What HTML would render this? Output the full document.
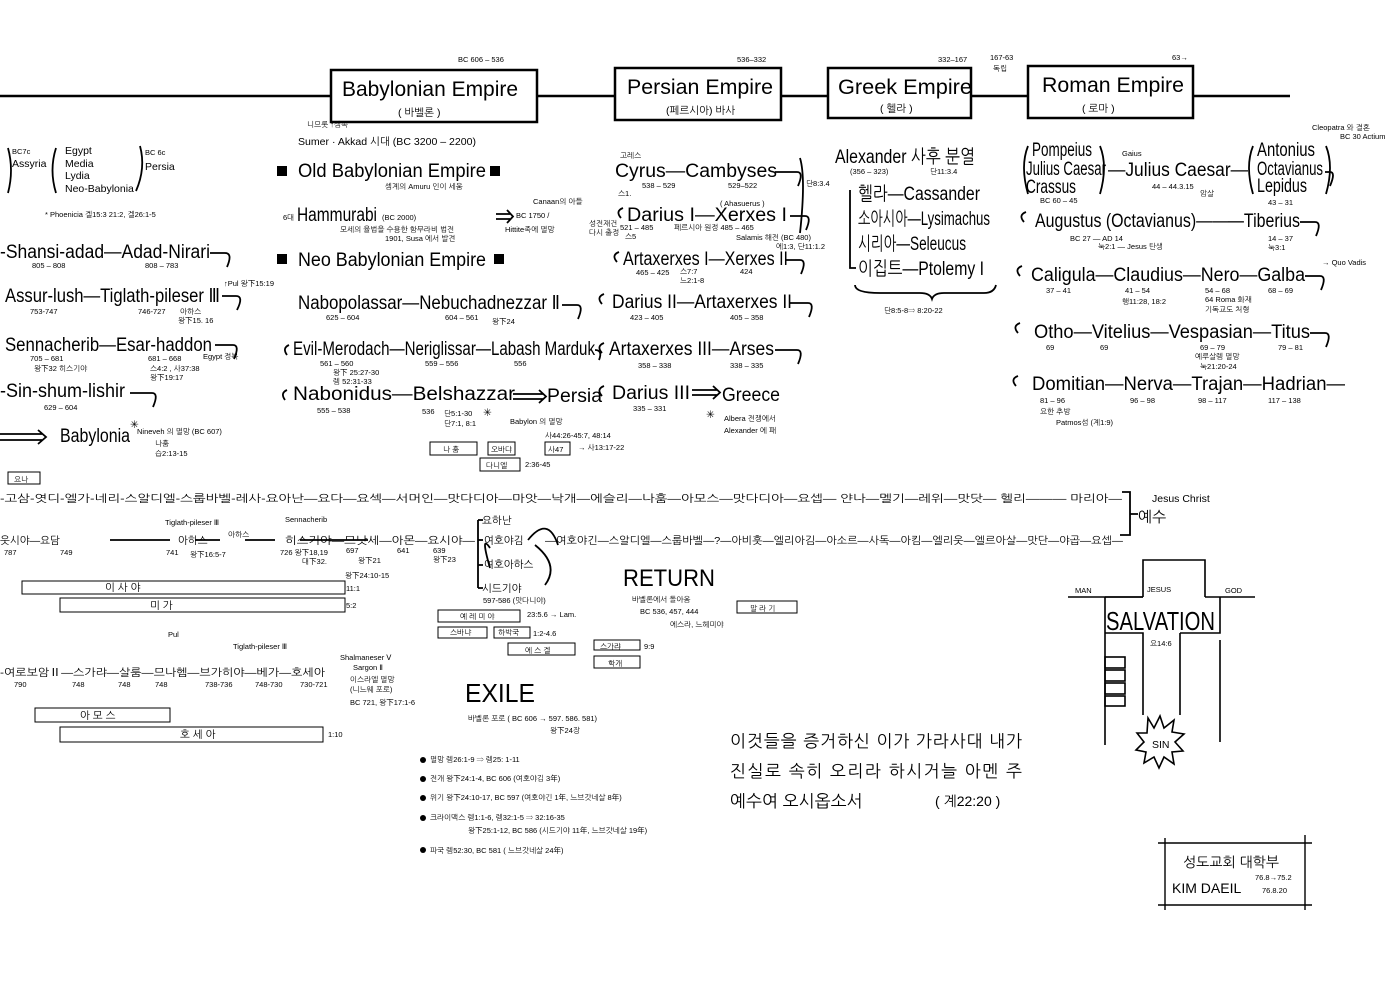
<!DOCTYPE html>
<html><head><meta charset="utf-8"><style>
html,body{margin:0;padding:0;background:#fff;}
svg{display:block;}
text{font-family:"Liberation Sans","NanumGothic",sans-serif;fill:#000;font-weight:normal;}
.k{font-family:"Liberation Sans","NanumGothic","Noto Sans CJK KR",sans-serif;}
.s{font-size:7.5px;}
.m{font-size:10.5px;}
.b{font-size:19px;}
.bb{font-size:21px;}
</style></head><body>
<svg width="1400" height="1000" viewBox="0 0 1400 1000" xmlns="http://www.w3.org/2000/svg">
<g stroke="#000" fill="none">
<path d="M0 96H331M537 96H615M781 96H828M971 96H1028M1193 96H1290" stroke-width="2.5"/>
<rect x="331" y="70" width="206" height="52" stroke-width="2.5"/>
<rect x="615" y="68" width="166" height="52" stroke-width="2.5"/>
<rect x="828" y="68" width="143" height="50" stroke-width="2.5"/>
<rect x="1028" y="66" width="165" height="52" stroke-width="2.5"/>
<g stroke-width="1.8">
<path d="M210 253h15q8 0 2 14"/><path d="M222 296h14q8 0 1 14"/><path d="M215 345h18q7 0 1 14"/><path d="M130 393h22q7 0 1 14"/>
<path d="M562 305h15q7 0 1 14"/><path d="M595 350q8 0 4 10"/>
<path d="M775 172h22q7 0 1 14"/><path d="M790 216h15q7 0 1 14"/><path d="M785 260h15q7 0 1 14"/><path d="M790 303h18q7 0 1 14"/><path d="M775 350h22q7 0 1 14"/>
<path d="M1300 222h15q7 0 1 14"/><path d="M1305 276h15q7 0 1 14"/><path d="M1310 333h15q7 0 1 14"/><path d="M1325 172h5q6 0 0 14"/>
<path d="M289 345q-7 3 -2 10M287 390q-7 3 -2 10M623 208q-8 3 -2 10M619 252q-8 3 -2 10M604 294q-8 3 -2 10M604 343q-8 3 -2 10M604 386q-8 3 -2 10M1026 212q-8 3 -2 10M1022 266q-8 3 -2 10M1020 323q-8 3 -2 10M1018 376q-8 3 -2 10"/>
<path d="M800 158q6 20 0 75"/>
<path d="M850 190v78h6"/>
<path d="M855 285q0 8 25 8h40q10 0 12 6q2 -6 12 -6h40q10 0 12 -8"/>
<path d="M1028 146q-8 20 0 48M1100 146q8 20 0 48M1253 146q-8 20 0 48M1326 146q8 20 0 48"/>
<path d="M56 148q-7 22 0 45M8 148q6 22 0 45"/><path d="M140 146q6 22 -4 45"/>
<path d="M0 434h42M0 440h42M38 430l8 7l-8 7"/>
<path d="M513 394h30M513 399h30M539 390l7 6.5l-7 6.5"/>
<path d="M692 390h25M692 395h25M713 386l7 6.5l-7 6.5"/>
<path d="M496 214h14M496 219h14M507 210l6 6.5l-6 6.5"/>
<path d="M1122 492h8v43h-10M1130 514h8"/>
<path d="M478 520v68M478 520h5M478 540h5M478 565h5M478 588h5"/>
<path d="M528 540q20 -25 30 5M490 548q-10 -15 0 20M535 545q25 20 10 40"/>
<path d="M110 540h60M300 540h68M195 540h25M245 540h30"/>
</g>
<rect x="8" y="472" width="32" height="12"/>
<rect x="430" y="442" width="47" height="13"/><rect x="488" y="442" width="27" height="13"/><rect x="545" y="442" width="25" height="13"/><rect x="480" y="458" width="40" height="13"/>
<rect x="22" y="581" width="323" height="13"/><rect x="60" y="598" width="285" height="14"/>
<rect x="438" y="610" width="82" height="12"/><rect x="438" y="627" width="49" height="11"/><rect x="494" y="627" width="36" height="11"/>
<rect x="508" y="643" width="67" height="12"/><rect x="594" y="640" width="46" height="10"/><rect x="594" y="656" width="46" height="12"/><rect x="737" y="601" width="60" height="12"/>
<rect x="35" y="708" width="135" height="14"/><rect x="60" y="727" width="263" height="15"/>
<g stroke-width="1.6">
<path d="M1143 597V560H1205V597"/>
<path d="M1068 597H1143M1205 597H1255"/>
<path d="M1105 597V745M1105 633H1143V715M1180 633V715M1180 633H1220V600M1220 640V742M1105 597v3M1220 597v3"/>
<path d="M1105 597H1143"/>
<rect x="1105" y="657" width="20" height="11"/><rect x="1105" y="670" width="20" height="11"/><rect x="1105" y="683" width="20" height="11"/><rect x="1105" y="696" width="20" height="10"/>
<path d="M1148 718l6 10l6 -12l4 12l10 -8l-2 12l12 2l-9 8l8 9l-11 1l2 12l-10 -7l-5 11l-5 -11l-10 6l2 -11l-10 -2l8 -8l-7 -9l10 0z"/>
</g>
<path d="M1158 843H1312M1165 838V910M1305 835V910M1158 905H1312" stroke-width="1.4"/>
</g>
<g fill="#000">
<rect x="277" y="166" width="10" height="10"/><rect x="490" y="166" width="10" height="10"/>
<rect x="277" y="254" width="10" height="10"/><rect x="494" y="254" width="10" height="10"/>
<circle cx="423" cy="760" r="3"/><circle cx="423" cy="779" r="3"/><circle cx="423" cy="798" r="3"/><circle cx="423" cy="818" r="3"/><circle cx="423" cy="850" r="3"/>
</g>

<text x="458" y="62" class="s">BC 606 – 536</text>
<text x="342" y="96" class="bb" textLength="176" lengthAdjust="spacingAndGlyphs">Babylonian Empire</text>
<text x="398" y="116" class="k m">( 바벨론 )</text>
<text x="737" y="62" class="s">536–332</text>
<text x="627" y="94" class="bb" textLength="146" lengthAdjust="spacingAndGlyphs">Persian Empire</text>
<text x="666" y="114" class="k m">(페르시아) 바사</text>
<text x="938" y="62" class="s">332–167</text>
<text x="990" y="60" class="s">167-63</text><text x="993" y="71" class="k s">독립</text>
<text x="1172" y="60" class="s">63→</text>
<text x="838" y="94" class="bb" textLength="134" lengthAdjust="spacingAndGlyphs">Greek Empire</text>
<text x="880" y="112" class="k m">( 헬라 )</text>
<text x="1042" y="92" class="bb" textLength="142" lengthAdjust="spacingAndGlyphs">Roman Empire</text>
<text x="1082" y="112" class="k m">( 로마 )</text>

<text x="12" y="154" class="s">BC7c</text><text x="12" y="167" class="m">Assyria</text>
<text x="65" y="154" class="m">Egypt</text><text x="65" y="167" class="m">Media</text><text x="65" y="179" class="m">Lydia</text><text x="65" y="192" class="m">Neo-Babylonia</text>
<text x="145" y="155" class="s">BC 6c</text><text x="145" y="170" class="m">Persia</text>
<text x="45" y="217" class="k s">* Phoenicia  겔15:3 21:2,  겔26:1-5</text>
<text x="0" y="258" class="b" textLength="210" lengthAdjust="spacingAndGlyphs">-Shansi-adad—Adad-Nirari</text>
<text x="32" y="268" class="s">805 – 808</text><text x="145" y="268" class="s">808 – 783</text>
<text x="5" y="302" class="b" textLength="215" lengthAdjust="spacingAndGlyphs">Assur-lush—Tiglath-pileser Ⅲ</text>
<text x="224" y="286" class="k s">↑Pul 왕下15:19</text>
<text x="30" y="314" class="s">753-747</text><text x="138" y="314" class="s">746-727</text><text x="180" y="314" class="k s">아하스</text><text x="178" y="323" class="k s">왕下15. 16</text>
<text x="5" y="351" class="b" textLength="207" lengthAdjust="spacingAndGlyphs">Sennacherib—Esar-haddon</text>
<text x="30" y="361" class="s">705 – 681</text><text x="34" y="371" class="k s">왕下32  히스기야</text>
<text x="148" y="361" class="s">681 – 668</text><text x="150" y="371" class="k s">스4:2 , 사37:38</text><text x="150" y="380" class="k s">왕下19:17</text><text x="203" y="359" class="k s">Egypt 정복</text>
<text x="0" y="397" class="b" textLength="125" lengthAdjust="spacingAndGlyphs">-Sin-shum-lishir</text>
<text x="44" y="410" class="s">629 – 604</text>
<text x="60" y="442" class="b" textLength="70" lengthAdjust="spacingAndGlyphs">Babylonia</text>
<text x="130" y="428" class="m">✳</text><text x="137" y="434" class="k s">Nineveh 의 멸망 (BC 607)</text>
<text x="155" y="446" class="k s">나훔</text><text x="155" y="456" class="k s">습2:13-15</text>

<text x="307" y="127" class="k s">니므롯   ↑셈족</text>
<text x="298" y="145" class="k m" textLength="178" lengthAdjust="spacingAndGlyphs">Sumer · Akkad 시대  (BC 3200 – 2200)</text>
<text x="298" y="177" class="b" textLength="188" lengthAdjust="spacingAndGlyphs">Old Babylonian Empire</text>
<text x="385" y="189" class="k s">셈계의 Amuru 인이 세움</text>
<text x="283" y="220" class="k s">6대</text>
<text x="297" y="221" class="b" textLength="80" lengthAdjust="spacingAndGlyphs">Hammurabi</text><text x="382" y="220" class="s">(BC 2000)</text>
<text x="340" y="232" class="k s">모세의 율법을 수용한 함무라비 법전</text><text x="385" y="241" class="k s">1901, Susa 에서 발견</text>
<text x="516" y="218" class="s">BC 1750 /</text><text x="533" y="204" class="k s">Canaan의 아들</text><text x="505" y="232" class="k s">Hittite족에 멸망</text>
<text x="298" y="266" class="b" textLength="188" lengthAdjust="spacingAndGlyphs">Neo Babylonian Empire</text>
<text x="298" y="309" class="b" textLength="262" lengthAdjust="spacingAndGlyphs">Nabopolassar—Nebuchadnezzar Ⅱ</text>
<text x="326" y="320" class="s">625 – 604</text><text x="445" y="320" class="s">604 – 561</text><text x="492" y="324" class="k s">왕下24</text>
<text x="293" y="355" class="b" textLength="302" lengthAdjust="spacingAndGlyphs">Evil-Merodach—Neriglissar—Labash Marduk</text>
<text x="320" y="366" class="s">561 – 560</text><text x="425" y="366" class="s">559 – 556</text><text x="514" y="366" class="s">556</text>
<text x="333" y="375" class="k s">왕下 25:27-30</text><text x="333" y="384" class="k s">렘 52:31-33</text>
<text x="293" y="400" class="b" textLength="222" lengthAdjust="spacingAndGlyphs">Nabonidus—Belshazzar</text>
<text x="547" y="402" class="b" textLength="55" lengthAdjust="spacingAndGlyphs">Persia</text>
<text x="317" y="413" class="s">555 – 538</text><text x="422" y="414" class="s">536</text>
<text x="444" y="416" class="k s">단5:1-30</text><text x="444" y="426" class="k s">단7:1, 8:1</text>
<text x="483" y="416" class="m">✳</text><text x="510" y="424" class="k s">Babylon 의 멸망</text>
<text x="545" y="438" class="k s">사44:26-45:7, 48:14</text>
<text x="578" y="450" class="k s">→ 사13:17-22</text>
<text x="443" y="452" class="k s">나 훔</text><text x="491" y="452" class="k s">오바댜</text><text x="548" y="452" class="k s">사47</text>
<text x="486" y="468" class="k s">다니엘</text><text x="525" y="467" class="s">2:36-45</text>

<text x="620" y="158" class="k s">고레스</text>
<text x="615" y="177" class="b" textLength="162" lengthAdjust="spacingAndGlyphs">Cyrus—Cambyses</text>
<text x="642" y="188" class="s">538 – 529</text><text x="728" y="188" class="s">529–522</text><text x="618" y="196" class="k s">스1.</text>
<text x="806" y="186" class="k s">단8:3.4</text>
<text x="720" y="206" class="s">( Ahasuerus )</text>
<text x="627" y="221" class="b" textLength="160" lengthAdjust="spacingAndGlyphs">Darius I—Xerxes I</text>
<text x="589" y="226" class="k s">성전재건</text><text x="589" y="235" class="k s">다시 출정</text>
<text x="620" y="230" class="s">521 – 485</text><text x="625" y="239" class="k s">스5</text>
<text x="674" y="230" class="k s">페르시아 원정 485 – 465</text>
<text x="736" y="240" class="k s">Salamis 해전 (BC 480)</text><text x="776" y="249" class="k s">에1:3, 단11:1.2</text>
<text x="623" y="265" class="b" textLength="165" lengthAdjust="spacingAndGlyphs">Artaxerxes I—Xerxes II</text>
<text x="636" y="275" class="s">465 – 425</text><text x="680" y="274" class="k s">스7:7</text><text x="680" y="283" class="k s">느2:1-8</text><text x="740" y="274" class="s">424</text>
<text x="612" y="308" class="b" textLength="180" lengthAdjust="spacingAndGlyphs">Darius II—Artaxerxes II</text>
<text x="630" y="320" class="s">423 – 405</text><text x="730" y="320" class="s">405 – 358</text>
<text x="609" y="355" class="b" textLength="165" lengthAdjust="spacingAndGlyphs">Artaxerxes III—Arses</text>
<text x="638" y="368" class="s">358 – 338</text><text x="730" y="368" class="s">338 – 335</text>
<text x="612" y="399" class="b" textLength="78" lengthAdjust="spacingAndGlyphs">Darius III</text>
<text x="722" y="401" class="b" textLength="58" lengthAdjust="spacingAndGlyphs">Greece</text>
<text x="633" y="411" class="s">335 – 331</text>
<text x="706" y="418" class="m">✳</text><text x="724" y="421" class="k s">Albera 전쟁에서</text><text x="724" y="433" class="k s">Alexander 에 패</text>

<text x="835" y="163" class="b" textLength="140" lengthAdjust="spacingAndGlyphs">Alexander 사후 분열</text>
<text x="850" y="174" class="s">(356 – 323)</text><text x="930" y="174" class="k s">단11:3.4</text>
<text x="858" y="200" class="b" textLength="122" lengthAdjust="spacingAndGlyphs">헬라—Cassander</text>
<text x="858" y="225" class="b" textLength="132" lengthAdjust="spacingAndGlyphs">소아시아—Lysimachus</text>
<text x="858" y="250" class="b" textLength="108" lengthAdjust="spacingAndGlyphs">시리아—Seleucus</text>
<text x="858" y="275" class="b" textLength="126" lengthAdjust="spacingAndGlyphs">이집트—Ptolemy I</text>
<text x="884" y="313" class="k s">단8:5-8⇒ 8:20-22</text>

<text x="1312" y="130" class="s">Cleopatra 와 결혼</text><text x="1340" y="139" class="s">BC 30 Actium</text>
<text x="1032" y="156" class="b" textLength="60" lengthAdjust="spacingAndGlyphs">Pompeius</text>
<text x="1026" y="175" class="b" textLength="80" lengthAdjust="spacingAndGlyphs">Julius Caesar</text>
<text x="1026" y="193" class="b" textLength="50" lengthAdjust="spacingAndGlyphs">Crassus</text>
<text x="1040" y="203" class="s">BC 60 – 45</text>
<text x="1122" y="156" class="s">Gaius</text>
<text x="1108" y="176" class="b" textLength="140" lengthAdjust="spacingAndGlyphs">—Julius Caesar—</text>
<text x="1152" y="189" class="s">44 – 44.3.15</text><text x="1200" y="196" class="k s">암살</text>
<text x="1257" y="156" class="b" textLength="58" lengthAdjust="spacingAndGlyphs">Antonius</text>
<text x="1257" y="175" class="b" textLength="66" lengthAdjust="spacingAndGlyphs">Octavianus</text>
<text x="1257" y="192" class="b" textLength="50" lengthAdjust="spacingAndGlyphs">Lepidus</text>
<text x="1268" y="205" class="s">43 – 31</text>
<text x="1035" y="227" class="b" textLength="265" lengthAdjust="spacingAndGlyphs">Augustus (Octavianus)———Tiberius</text>
<text x="1070" y="241" class="s">BC 27 — AD 14</text><text x="1098" y="249" class="k s">눅2:1 — Jesus 탄생</text>
<text x="1268" y="241" class="s">14 – 37</text><text x="1268" y="250" class="k s">눅3:1</text>
<text x="1031" y="281" class="b" textLength="274" lengthAdjust="spacingAndGlyphs">Caligula—Claudius—Nero—Galba</text>
<text x="1322" y="265" class="s">→ Quo Vadis</text>
<text x="1046" y="293" class="s">37 – 41</text><text x="1125" y="293" class="s">41 – 54</text><text x="1205" y="293" class="s">54 – 68</text><text x="1268" y="293" class="s">68 – 69</text>
<text x="1122" y="304" class="k s">행11:28, 18:2</text><text x="1205" y="302" class="k s">64 Roma 화재</text><text x="1205" y="312" class="k s">기독교도 처형</text>
<text x="1034" y="338" class="b" textLength="276" lengthAdjust="spacingAndGlyphs">Otho—Vitelius—Vespasian—Titus</text>
<text x="1046" y="350" class="s">69</text><text x="1100" y="350" class="s">69</text><text x="1200" y="350" class="s">69 – 79</text><text x="1278" y="350" class="s">79 – 81</text>
<text x="1195" y="359" class="k s">예루살렘 멸망</text><text x="1200" y="369" class="k s">눅21:20-24</text>
<text x="1032" y="390" class="b" textLength="313" lengthAdjust="spacingAndGlyphs">Domitian—Nerva—Trajan—Hadrian—</text>
<text x="1040" y="403" class="s">81 – 96</text><text x="1130" y="403" class="s">96 – 98</text><text x="1198" y="403" class="s">98 – 117</text><text x="1268" y="403" class="s">117 – 138</text>
<text x="1040" y="414" class="k s">요한 추방</text><text x="1056" y="425" class="k s">Patmos섬 (계1:9)</text>

<text x="14" y="482" class="k s">요나</text>
<text x="0" y="502" class="k m" textLength="1122" lengthAdjust="spacingAndGlyphs">-고삼-엿디-엘가-네리-스알디엘-스룹바벨-레사-요아난—요다—요섹—서머인—맛다디아—마앗—낙개—에슬리—나훔—아모스—맛다디아—요셉— 얀나—멜기—레위—맛닷— 헬리——— 마리아—</text>
<text x="1152" y="502" class="m">Jesus Christ</text>
<text x="1138" y="522" class="k" font-size="15">예수</text>
<text x="0" y="544" class="k m">웃시야—요담</text>
<text x="178" y="544" class="k m">아하스</text>
<text x="285" y="544" class="k m" textLength="190" lengthAdjust="spacingAndGlyphs">히스기야—므낫세—아몬—요시야—</text>
<text x="228" y="537" class="k s">아하스</text>
<text x="165" y="525" class="s">Tiglath-pileser Ⅲ</text><text x="285" y="522" class="s">Sennacherib</text>
<text x="4" y="555" class="s">787</text><text x="60" y="555" class="s">749</text><text x="166" y="555" class="s">741</text><text x="190" y="557" class="k s">왕下16:5-7</text>
<text x="280" y="555" class="s">726 왕下18,19</text><text x="302" y="564" class="k s">대下32.</text>
<text x="346" y="553" class="s">697</text><text x="358" y="563" class="k s">왕下21</text><text x="345" y="578" class="k s">왕下24:10-15</text>
<text x="397" y="553" class="s">641</text><text x="433" y="553" class="s">639</text><text x="433" y="562" class="k s">왕下23</text>
<text x="482" y="524" class="k m">요하난</text>
<text x="484" y="544" class="k m">여호야김</text>
<text x="484" y="568" class="k m">여호아하스</text>
<text x="482" y="592" class="k m">시드기야</text>
<text x="483" y="603" class="k s">597-586 (맛다니야)</text>
<text x="545" y="544" class="k m" textLength="578" lengthAdjust="spacingAndGlyphs">—여호야긴—스알디엘—스룹바벨—?—아비훗—엘리아김—아소르—사독—아킴—엘리웃—엘르아살—맛단—야곱—요셉—</text>
<text x="105" y="591" class="k m">이          사          야</text>
<text x="150" y="609" class="k m">미          가</text>
<text x="346" y="591" class="s">11:1</text><text x="346" y="608" class="s">5:2</text>
<text x="460" y="619" class="k s">예 레 미 야</text><text x="527" y="617" class="s">23:5.6 → Lam.</text>
<text x="450" y="635" class="k s">스바냐</text><text x="498" y="635" class="k s">하박국</text><text x="533" y="636" class="s">1:2-4.6</text>
<text x="525" y="653" class="k s">에 스 겔</text>
<text x="600" y="649" class="k s">스가랴</text><text x="644" y="649" class="s">9:9</text><text x="608" y="666" class="k s">학개</text>
<text x="750" y="611" class="k s">말 라 기</text>
<text x="623" y="586" font-size="24" textLength="92" lengthAdjust="spacingAndGlyphs">RETURN</text>
<text x="632" y="602" class="k s">바벨론에서 돌아옴</text><text x="640" y="614" class="s">BC 536, 457, 444</text><text x="670" y="627" class="k s">에스라, 느헤미야</text>
<text x="168" y="637" class="s">Pul</text><text x="233" y="649" class="s">Tiglath-pileser Ⅲ</text>
<text x="0" y="676" class="k m" textLength="325" lengthAdjust="spacingAndGlyphs">-여로보암Ⅱ—스가랴—살룸—므나헴—브가히야—베가—호세아</text>
<text x="14" y="687" class="s">790</text><text x="72" y="687" class="s">748</text><text x="118" y="687" class="s">748</text><text x="155" y="687" class="s">748</text><text x="205" y="687" class="s">738-736</text><text x="255" y="687" class="s">748-730</text><text x="300" y="687" class="s">730-721</text>
<text x="340" y="660" class="s">Shalmaneser Ⅴ</text><text x="353" y="670" class="s">Sargon Ⅱ</text>
<text x="350" y="682" class="k s">이스라엘 멸망</text><text x="350" y="692" class="k s">(니느웨 포로)</text><text x="350" y="705" class="k s">BC 721,  왕下17:1-6</text>
<text x="80" y="719" class="k m">아    모    스</text>
<text x="180" y="738" class="k m">호        세        아</text>
<text x="328" y="737" class="s">1:10</text>
<text x="465" y="702" font-size="26" textLength="70" lengthAdjust="spacingAndGlyphs">EXILE</text>
<text x="468" y="721" class="k s">바벨론 포로  ( BC 606 → 597. 586. 581)</text>
<text x="550" y="733" class="k s">왕下24장</text>
<text x="430" y="762" class="k s">멸망      렘26:1-9  ⇒  렘25: 1-11</text>
<text x="430" y="781" class="k s">전개      왕下24:1-4,  BC 606 (여호야김 3年)</text>
<text x="430" y="800" class="k s">위기      왕下24:10-17, BC 597 (여호야긴 1年, 느브갓네살 8年)</text>
<text x="430" y="820" class="k s">크라이맥스    렘1:1-6, 렘32:1-5 ⇒ 32:16-35</text>
<text x="468" y="833" class="k s">왕下25:1-12,  BC 586 (시드기야 11年, 느브갓네살 19年)</text>
<text x="430" y="853" class="k s">파국      렘52:30,  BC 581 ( 느브갓네살 24年)</text>
<text x="730" y="747" class="k" font-size="17" textLength="292" lengthAdjust="spacing">이것들을  증거하신  이가  가라사대  내가</text>
<text x="730" y="777" class="k" font-size="17" textLength="292" lengthAdjust="spacing">진실로  속히  오리라  하시거늘  아멘 주</text>
<text x="730" y="807" class="k" font-size="17">예수여  오시옵소서</text>
<text x="935" y="806" class="k" font-size="14">( 계22:20 )</text>
<text x="1075" y="593" class="s">MAN</text><text x="1147" y="592" class="s">JESUS</text><text x="1225" y="593" class="s">GOD</text>
<text x="1106" y="630" font-size="26" textLength="109" lengthAdjust="spacingAndGlyphs">SALVATION</text>
<text x="1150" y="646" class="k s">요14:6</text>
<text x="1152" y="748" class="m">SIN</text>
<text x="1183" y="867" class="k" font-size="14">성도교회 대학부</text>
<text x="1172" y="893" font-size="14">KIM DAEIL</text>
<text x="1255" y="880" class="s">76.8→75.2</text><text x="1262" y="893" class="s">76.8.20</text>
</svg>
</body></html>
